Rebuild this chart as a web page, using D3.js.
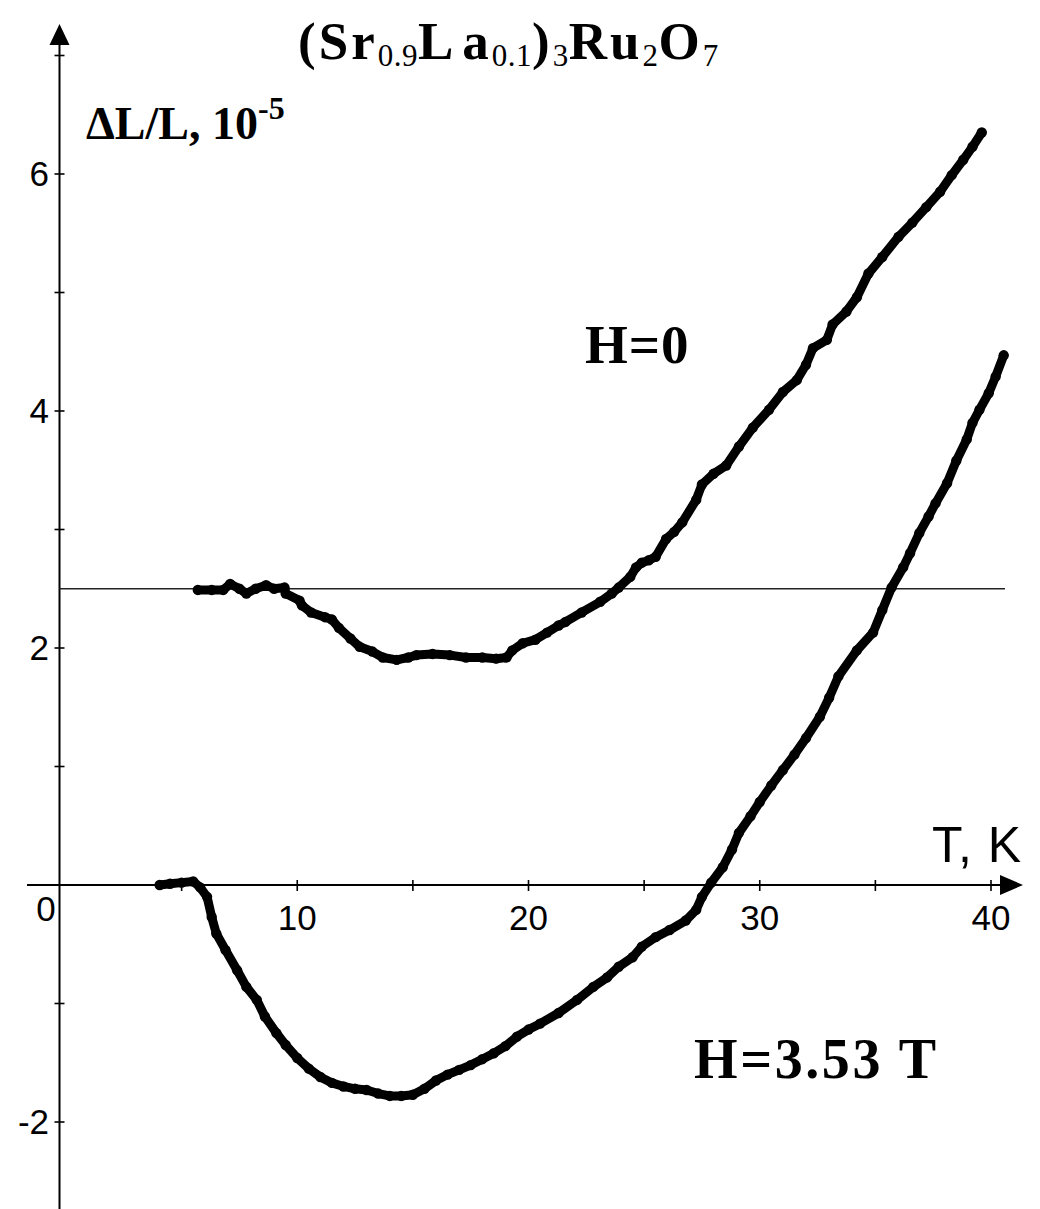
<!DOCTYPE html>
<html>
<head>
<meta charset="utf-8">
<script src="https://cdn.jsdelivr.net/npm/d3@7/dist/d3.min.js"></script>
<style>
  html, body { margin: 0; padding: 0; background: #fff; }
  svg { display: block; }
</style>
</head>
<body>
<svg id="chart" width="1040" height="1209"></svg>
<script>
// Thermal expansion ΔL/L (units of 1e-5) versus temperature T (K)
const tempH0 = [5.7, 6.3, 6.8, 7.1, 7.5, 7.8, 8.2, 8.65, 9.0, 9.45, 9.5, 10.1, 10.2, 10.6, 11.2, 11.5, 11.8, 12.3, 12.7, 13.25, 13.7, 14.3, 14.8, 15.15, 15.85, 16.6, 17.3, 18.0, 18.6, 19.05, 19.3, 19.75, 20.3, 20.8, 21.3, 21.6, 22.3, 23.1, 23.6, 23.9, 24.4, 24.65, 24.9, 25.2, 25.5, 25.95, 26.3, 26.65, 27.25, 27.5, 28.0, 28.55, 29.1, 29.7, 30.4, 31.0, 31.6, 32.0, 32.3, 32.9, 33.15, 33.75, 34.2, 34.7, 35.3, 36.0, 36.6, 37.2, 37.8, 38.3, 38.8, 39.2, 39.6];
const dlH0 = [2.49, 2.49, 2.49, 2.54, 2.50, 2.46, 2.50, 2.53, 2.50, 2.51, 2.46, 2.40, 2.36, 2.30, 2.26, 2.24, 2.17, 2.08, 2.01, 1.97, 1.92, 1.90, 1.92, 1.94, 1.95, 1.94, 1.92, 1.92, 1.91, 1.92, 1.98, 2.04, 2.07, 2.13, 2.19, 2.22, 2.30, 2.39, 2.46, 2.51, 2.60, 2.68, 2.72, 2.74, 2.77, 2.92, 2.98, 3.06, 3.25, 3.38, 3.47, 3.54, 3.70, 3.86, 4.01, 4.16, 4.26, 4.39, 4.53, 4.60, 4.73, 4.84, 4.96, 5.16, 5.30, 5.47, 5.59, 5.72, 5.85, 5.99, 6.12, 6.23, 6.35];

const tempH353 = [4.05, 4.5, 5.0, 5.5, 5.8, 6.1, 6.3, 6.5, 6.9, 7.4, 7.8, 8.25, 8.6, 9.1, 9.5, 10.0, 10.5, 11.0, 11.5, 12.0, 12.5, 13.0, 13.5, 14.0, 14.5, 15.0, 15.5, 16.0, 16.5, 17.0, 17.5, 18.0, 18.5, 19.0, 19.5, 20.0, 20.5, 21.3, 22.1, 22.8, 23.4, 23.9, 24.5, 24.9, 25.5, 26.1, 26.8, 27.25, 27.5, 27.9, 28.4, 28.8, 29.1, 29.6, 30.0, 30.5, 31.0, 31.5, 32.0, 32.6, 33.0, 33.4, 34.2, 34.9, 35.3, 35.7, 36.2, 36.5, 36.9, 37.3, 37.6, 38.1, 38.5, 38.95, 39.2, 39.5, 39.9, 40.2, 40.55];
const dlH353 = [0.00, 0.01, 0.02, 0.03, -0.02, -0.10, -0.27, -0.41, -0.55, -0.72, -0.86, -0.97, -1.11, -1.25, -1.35, -1.46, -1.55, -1.62, -1.67, -1.70, -1.72, -1.73, -1.76, -1.78, -1.78, -1.77, -1.72, -1.65, -1.60, -1.56, -1.52, -1.47, -1.42, -1.36, -1.28, -1.22, -1.17, -1.08, -0.97, -0.86, -0.78, -0.69, -0.61, -0.52, -0.44, -0.38, -0.30, -0.21, -0.10, 0.02, 0.15, 0.30, 0.44, 0.58, 0.70, 0.84, 0.97, 1.10, 1.24, 1.42, 1.58, 1.76, 1.98, 2.13, 2.32, 2.51, 2.68, 2.80, 2.97, 3.11, 3.22, 3.39, 3.58, 3.76, 3.90, 4.01, 4.15, 4.29, 4.47];

const xTicks = [5, 10, 15, 20, 25, 30, 35, 40];
const xTickLabels = [10, 20, 30, 40];
const yTicks = [-2, -1, 0, 1, 2, 3, 4, 5, 6, 7];
const yTickLabels = [-2, 2, 4, 6];
const refLevel = 2.5;

const svg = d3.select("#chart");
const W = 1040, H = 1209;
svg.append("rect").attr("width", W).attr("height", H).attr("fill", "#fff");

const x = d3.scaleLinear().domain([0, 40]).range([66, 991]);
const y = d3.scaleLinear().domain([0, 6]).range([885, 174]);
const axisX = 59.5;       // position of the vertical axis line
const axisY = y(0);

const sans = "'Liberation Sans', Arial, sans-serif";
const serif = "'Liberation Serif', 'Times New Roman', serif";

// vertical axis with arrow
svg.append("line").attr("x1", axisX).attr("x2", axisX).attr("y1", 40).attr("y2", H)
  .attr("stroke", "#000").attr("stroke-width", 2);
svg.append("path").attr("d", `M${axisX},24 L${axisX - 10},45 L${axisX + 10},45 Z`).attr("fill", "#000");

// horizontal axis with arrow
svg.append("line").attr("x1", 27).attr("x2", 1004).attr("y1", axisY).attr("y2", axisY)
  .attr("stroke", "#000").attr("stroke-width", 2);
svg.append("path").attr("d", `M1023,${axisY} L1000,${axisY - 10} L1000,${axisY + 10} Z`).attr("fill", "#000");

// tick marks
svg.append("g").selectAll("line").data(yTicks).join("line")
  .attr("x1", axisX - 5).attr("x2", axisX + 5)
  .attr("y1", d => y(d)).attr("y2", d => y(d))
  .attr("stroke", "#000").attr("stroke-width", 1.6);
svg.append("g").selectAll("line").data(xTicks).join("line")
  .attr("x1", d => x(d)).attr("x2", d => x(d))
  .attr("y1", axisY - 5).attr("y2", axisY + 6)
  .attr("stroke", "#000").attr("stroke-width", 1.6);

// tick labels
svg.append("g").selectAll("text").data(yTickLabels).join("text")
  .attr("x", 49).attr("y", d => y(d)).attr("dy", "0.35em")
  .attr("text-anchor", "end").attr("font-family", sans).attr("font-size", 35)
  .text(d => d);
svg.append("g").selectAll("text").data(xTickLabels).join("text")
  .attr("x", d => x(d)).attr("y", 930)
  .attr("text-anchor", "middle").attr("font-family", sans).attr("font-size", 35)
  .text(d => d);
svg.append("text").attr("x", 46).attr("y", 921).attr("text-anchor", "middle")
  .attr("font-family", sans).attr("font-size", 35).text("0");

// axis names
svg.append("text").attr("x", 932).attr("y", 862)
  .attr("font-family", sans).attr("font-size", 50).attr("letter-spacing", 1).text("T, K");

const yLab = svg.append("text").attr("x", 86).attr("y", 139)
  .attr("font-family", serif).attr("font-weight", "bold").attr("font-size", 46);
yLab.append("tspan").text("ΔL/L, 10");
yLab.append("tspan").attr("dy", -20).attr("font-size", 32).text("-5");

// title with subscripts
const title = svg.append("text").attr("x", 298).attr("y", 59)
  .attr("font-family", serif).attr("font-weight", "bold").attr("font-size", 53);
const parts = [["(Sr", false], ["0.9", true], ["L", false], ["a", false], ["0.1", true], [")", false], ["3", true],
               ["Ru", false], ["2", true], ["O", false], ["7", true]];
let down = false;
parts.forEach(([t, sub]) => {
  const ts = title.append("tspan").text(t);
  if (t === "a") ts.attr("dx", 6);
  if (sub) {
    ts.attr("font-size", 31).attr("font-weight", "normal").attr("letter-spacing", 0.5)
      .attr("dy", down ? 0 : 7);
    down = true;
  } else {
    ts.attr("letter-spacing", 3).attr("dy", down ? -7 : 0);
    down = false;
  }
});

// reference level
svg.append("line").attr("x1", axisX).attr("x2", 1005)
  .attr("y1", y(refLevel)).attr("y2", y(refLevel))
  .attr("stroke", "#222").attr("stroke-width", 1.6);

// data curves
const series = [
  { t: tempH0, v: dlH0 },
  { t: tempH353, v: dlH353 }
];
const line = d3.line().x(d => x(d[0])).y(d => y(d[1]));
series.forEach(s => {
  const pts = s.t.map((t, i) => [t, s.v[i]]);
  svg.append("path").datum(pts).attr("d", line)
    .attr("fill", "none").attr("stroke", "#000").attr("stroke-width", 9)
    .attr("stroke-linejoin", "round").attr("stroke-linecap", "round");
  svg.append("g").selectAll("circle").data(pts).join("circle")
    .attr("cx", d => x(d[0])).attr("cy", d => y(d[1])).attr("r", 5.2).attr("fill", "#000");
});

// field labels
svg.append("text").attr("x", 585).attr("y", 363)
  .attr("font-family", serif).attr("font-weight", "bold").attr("font-size", 55)
  .attr("letter-spacing", 1).text("H=0");
svg.append("text").attr("x", 694).attr("y", 1078)
  .attr("font-family", serif).attr("font-weight", "bold").attr("font-size", 56)
  .attr("letter-spacing", 2.6).text("H=3.53 T");
</script>
</body>
</html>
